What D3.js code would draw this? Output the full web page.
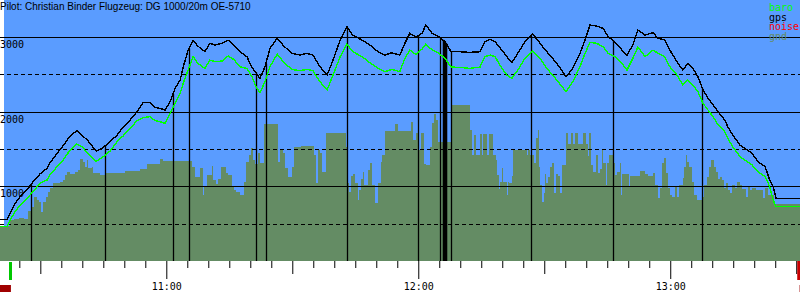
<!DOCTYPE html>
<html>
<head>
<meta charset="utf-8">
<script src="https://cdn.jsdelivr.net/npm/d3@7/dist/d3.min.js"></script>
<style>
body { margin: 0; background: #fff; }
svg { display: block; }
.mono { font-family: "DejaVu Sans Mono", monospace; font-size: 10px; }
</style>
</head>
<body>
<div id="chart"></div>
<script>
let width = 800;
let height = 300;
let plotH = 261;

// all times in minutes after 10:00
let fixTime = [20.4,22.1,22.8,24.0,25.2,26.8,28.3,29.9,31.6,32.3,34.0,35.4,37.1,38.7,39.9,41.4,43.3,44.9,46.6,48.3,
    49.7,51.4,53.0,54.5,56.1,57.3,58.5,59.7,60.9,62.1,63.3,64.2,65.2,66.4,67.5,69.2,70.4,71.6,73.3,74.7,
    76.1,77.5,79.2,80.4,81.4,82.3,83.5,84.7,86.4,88.0,89.9,91.8,93.5,94.9,96.6,98.3,99.7,101.4,103.0,104.4,
    106.6,108.5,110.4,112.1,113.7,115.6,116.8,118.0,119.4,120.9,121.8,123.3,124.7,126.4,127.8,129.9,132.3,134.7,135.9,137.1,
    138.3,139.9,141.1,142.3,143.7,145.4,147.3,149.0,150.6,153.0,155.2,156.8,158.5,159.7,160.9,162.5,164.0,165.2,166.8,168.5,
    169.7,171.1,172.3,174.0,175.9,177.1,178.7,179.9,181.6,183.0,184.2,185.4,186.6,187.8,189.0,190.2,191.4,193.0,193.7,194.9,
    196.6,197.8,199.5,200.9,202.6,203.7,204.5,205.2,206.8,210.9];
let gpsAlt = [558,558,639,773,861,951,1062,1165,1241,1316,
    1442,1540,1674,1745,1687,1607,1473,1517,1597,1687,
    1790,1888,1999,2125,2120,2055,2045,2022,2133,2312,
    2424,2631,2825,2950,2879,2803,2915,2892,2915,2959,
    2892,2803,2736,2591,2517,2446,2602,2848,2982,2879,
    2781,2758,2781,2758,2602,2491,2691,2959,3137,3026,
    2959,2892,2803,2758,2789,2758,2915,3049,2999,3049,
    3160,3049,3013,2936,2803,2803,2794,2803,2936,2969,
    2936,2825,2736,2655,2781,2936,3040,2915,2803,2647,
    2468,2580,2781,2959,3160,3147,3116,3003,2936,2825,
    2758,2892,3093,3026,3057,2982,2959,2825,2669,2557,
    2647,2580,2468,2290,2179,2089,1999,1888,1798,1687,
    1553,1509,1442,1330,1263,1085,995,840,840,840];
let baroAlt = [459,459,549,660,750,840,928,1040,1085,1152,
    1263,1352,1486,1567,1530,1442,1332,1393,1473,1600,
    1674,1781,1875,1921,1932,1881,1865,1844,1978,2112,
    2245,2410,2557,2736,2647,2580,2691,2669,2678,2745,
    2698,2602,2580,2468,2330,2254,2401,2602,2772,2658,
    2567,2548,2567,2548,2401,2290,2491,2736,2906,2803,
    2736,2655,2580,2535,2567,2535,2714,2825,2765,2839,
    2906,2825,2789,2714,2598,2593,2580,2598,2736,2758,
    2736,2580,2491,2446,2557,2714,2812,2714,2580,2424,
    2267,2401,2602,2781,2928,2915,2870,2781,2736,2647,
    2557,2714,2865,2736,2825,2781,2736,2602,2491,2357,
    2424,2357,2267,2112,2022,1932,1821,1731,1643,1530,
    1397,1352,1285,1196,1129,995,817,727,727,727];

// terrain below the track, one step per change
let gndTime = [20.4,22.8,23.7,24.9,26.1,27.1,27.8,28.5,29.2,29.7,
    30.2,30.6,31.4,31.8,32.3,33.0,33.5,34.7,35.4,35.9,
    36.4,37.1,38.3,39.0,39.4,40.2,40.6,41.1,41.4,42.3,
    42.5,44.2,45.4,50.2,53.7,55.4,58.5,59.2,66.1,66.8,
    68.0,68.7,69.0,69.7,70.9,71.1,71.8,72.3,73.0,74.2,
    74.7,75.6,76.1,76.6,77.5,78.5,79.0,79.7,80.2,80.6,
    81.1,81.8,82.3,83.3,86.6,87.1,87.8,88.3,89.0,89.9,
    90.4,92.1,95.2,95.6,96.1,96.6,97.1,98.0,102.8,103.3,
    103.5,104.0,104.4,104.9,105.6,105.9,106.4,106.8,107.1,108.0,
    108.5,109.0,109.7,110.4,111.1,111.4,112.1,114.5,115.2,118.3,
    118.7,119.4,120.2,120.6,121.4,121.8,122.8,123.3,123.7,124.2,
    124.7,127.8,128.0,132.3,132.8,133.3,133.7,134.7,135.2,135.4,
    136.4,136.8,137.8,138.5,138.7,139.2,139.5,139.9,140.2,141.1,
    141.4,141.6,142.3,142.5,145.9,146.1,146.6,147.5,148.0,148.5,
    148.7,149.0,149.4,149.9,150.2,150.4,150.9,151.4,151.8,152.3,
    152.8,153.3,153.7,154.2,155.2,155.6,156.4,156.8,157.3,158.0,
    159.2,159.9,160.4,160.6,161.1,161.6,162.3,162.8,163.3,163.7,
    164.0,164.7,164.9,165.4,166.4,166.8,167.3,168.0,168.3,168.5,
    170.2,170.4,172.8,174.0,174.7,175.9,176.4,177.1,177.5,178.0,
    178.5,179.0,179.5,179.9,180.4,181.1,181.6,182.1,183.0,183.3,
    183.7,184.0,184.5,185.2,185.6,186.4,187.5,188.0,188.7,189.2,
    189.7,190.4,190.9,191.4,191.8,192.3,192.8,193.3,193.7,194.2,
    194.7,195.4,195.9,196.6,197.1,198.0,198.5,199.0,199.5,200.4,
    202.1,202.6,203.3,204.7,210.9];
let gndAlt = [469,549,558,580,558,670,727,861,817,794,
    660,794,853,928,973,1040,1048,1062,1085,1152,
    1188,1165,1196,1218,1362,1330,1263,1352,1241,1263,
    1182,1152,1182,1209,1232,1299,1366,1339,1263,1129,
    1241,884,1008,1152,1276,1085,1027,1094,1255,1174,
    1152,1004,951,920,884,1062,1330,1419,1517,1352,
    1299,1442,1308,1834,1330,1486,1442,1241,1129,1263,
    1530,1540,1419,1040,1486,1442,1196,1710,1530,1040,
    928,1138,1165,1040,817,951,1094,1196,1018,1218,
    1308,1018,773,1040,1330,1419,1741,1834,1741,1865,
    1620,1710,1486,1710,1299,1285,1530,1844,1968,1888,
    1597,1821,2089,1754,1419,1687,1419,1701,1419,1701,
    1419,1701,1419,1352,1152,964,1062,1241,1062,884,
    1062,1040,1138,1486,1419,1486,1419,1308,1643,1754,
    1263,1018,794,907,1165,1040,1129,1263,1308,907,
    1165,1138,915,1285,1710,1567,1710,1567,1710,1567,
    1710,1567,1406,1710,1285,1196,1419,1174,1228,1496,
    1308,1018,1308,1419,1308,1152,1196,1316,884,1165,
    995,1138,1205,1165,1138,1174,1018,840,973,1308,
    1375,1174,973,884,853,995,861,1018,1107,1263,
    1419,1330,1263,1062,884,817,861,1018,1129,1263,
    1352,1263,1196,1094,1129,1085,973,1040,951,907,
    1018,973,1062,1018,960,861,995,951,973,951,
    840,973,884,759,759];

// thermal / marker times
let markTime = [27.8,45.4,61.6,65.4,81.3,83.7,103.1,120.0,125.2,125.8,126.0,126.2,126.4,126.6,126.7,127.7,146.9,166.3,187.6];
let takeoffTime = 22.9;
let landingTime = 210.6;
let noiseSpans = [[20.4, 23.0], [210.8, 211.5]];

let gridAlts = [500, 1000, 1500, 2000, 2500, 3000];
let labelAlts = [1000, 2000, 3000];
let legendNames = ["baro", "gps", "noise", "gnd"];
let legendColors = ["#00ff00", "#000000", "#ff0000", "#648c64"];
let title = "Pilot: Christian Binder Flugzeug: DG 1000/20m OE-5710";

let x = d3.scaleLinear().domain([20.4, 210.9]).range([0, width]);
let y = d3.scaleLinear().domain([0, 3000]).range([plotH, 37]);

let gps = fixTime.map((t, i) => ({ t: t, alt: gpsAlt[i] }));
let baro = fixTime.map((t, i) => ({ t: t, alt: baroAlt[i] }));
let gnd = gndTime.map((t, i) => ({ t: t, alt: gndAlt[i] }));

function altAt(series, t) {
    let i = d3.bisector(d => d.t).left(series, t);
    if (i <= 0) return series[0].alt;
    if (i >= series.length) return series[series.length - 1].alt;
    let a = series[i - 1], b = series[i];
    return a.alt + (b.alt - a.alt) * (t - a.t) / (b.t - a.t);
}

let svg = d3.select("#chart").append("svg")
    .attr("width", width)
    .attr("height", height);

svg.append("rect")
    .attr("x", 4).attr("y", 0)
    .attr("width", width - 4).attr("height", plotH)
    .style("fill", "#5a9cff");

svg.append("path")
    .datum(gnd)
    .attr("d", d3.area().curve(d3.curveStepAfter)
        .x(d => x(d.t)).y0(plotH).y1(d => y(d.alt)))
    .style("fill", "#648c64")
    .style("shape-rendering", "crispEdges");

svg.append("g").selectAll("line")
    .data(gridAlts)
    .enter().append("line")
    .attr("x1", 0).attr("x2", width)
    .attr("y1", d => Math.round(y(d)) + 0.5)
    .attr("y2", d => Math.round(y(d)) + 0.5)
    .style("stroke", "#000")
    .style("stroke-width", 1)
    .style("stroke-dasharray", d => d % 1000 ? "4,3" : null);

svg.append("g").selectAll("line")
    .data(markTime)
    .enter().append("line")
    .attr("x1", d => Math.round(x(d)) + 0.5)
    .attr("x2", d => Math.round(x(d)) + 0.5)
    .attr("y1", d => y(altAt(gps, d)))
    .attr("y2", plotH)
    .style("stroke", "#000")
    .style("stroke-width", 1.3);

// jagged like the original logger plot
let line = d3.line().x(d => x(d.t)).y(d => y(d.alt));
svg.append("path").datum(gps).attr("d", line)
    .style("fill", "none").style("stroke", "#000").style("stroke-width", 1.4)
    .style("shape-rendering", "crispEdges");
svg.append("path").datum(baro).attr("d", line)
    .style("fill", "none").style("stroke", "#00ff00").style("stroke-width", 1.4)
    .style("shape-rendering", "crispEdges");

svg.append("g").selectAll("text")
    .data(labelAlts)
    .enter().append("text")
    .attr("class", "mono")
    .attr("x", 0)
    .attr("y", d => y(d) + 11)
    .text(d => d);

svg.append("text")
    .attr("x", 0).attr("y", 10)
    .style("font-family", "Liberation Sans, Arial, sans-serif")
    .style("font-size", "10px")
    .text(title);

svg.append("g").selectAll("text")
    .data(legendNames)
    .enter().append("text")
    .attr("class", "mono")
    .attr("x", 769)
    .attr("y", (d, i) => 11 + i * 9.7)
    .style("fill", (d, i) => legendColors[i])
    .text(d => d);

// time axis
let tickMins = d3.range(25, 211, 5);
let axis = svg.append("g")
    .attr("transform", "translate(0," + plotH + ")")
    .call(d3.axisBottom(x).tickValues(tickMins).tickSize(7).tickSizeOuter(0)
        .tickFormat(m => m % 60 === 0 ? (10 + m / 60) + ":00" : ""));
axis.select(".domain").remove();
axis.selectAll(".tick line")
    .attr("y2", m => m % 60 === 0 ? 18 : (m % 30 === 0 ? 13 : 7));
axis.selectAll(".tick text")
    .attr("class", "mono")
    .attr("y", 29).attr("dy", null)
    .style("fill", "#000");

svg.append("rect")
    .attr("x", x(takeoffTime) - 1.5).attr("y", plotH + 1)
    .attr("width", 3).attr("height", 18)
    .style("fill", "#00c800");
svg.append("rect")
    .attr("x", x(landingTime) - 1.5).attr("y", plotH)
    .attr("width", 3).attr("height", 19)
    .style("fill", "#c80000");
svg.append("g").selectAll("rect")
    .data(noiseSpans)
    .enter().append("rect")
    .attr("x", d => x(d[0]))
    .attr("y", 285)
    .attr("width", d => x(d[1]) - x(d[0]))
    .attr("height", 7)
    .style("fill", "#a00000");
</script>
</body>
</html>
